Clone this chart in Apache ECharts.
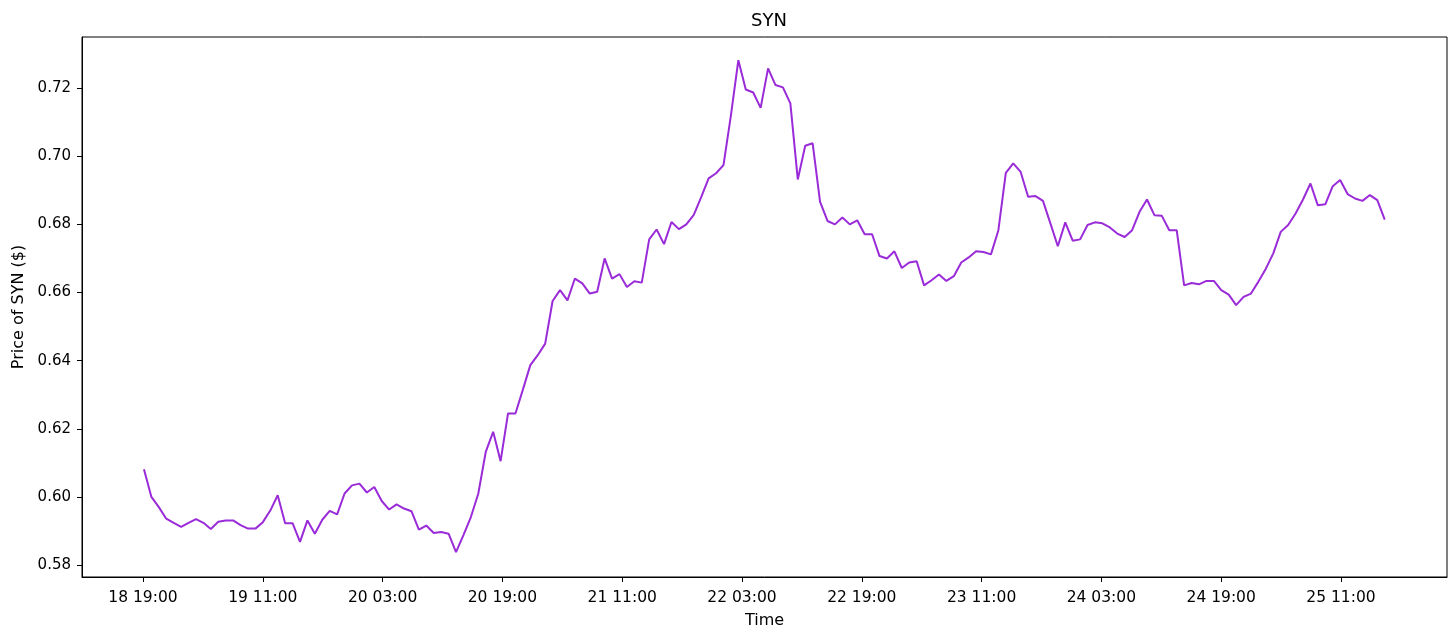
<!DOCTYPE html>
<html>
<head>
<meta charset="utf-8">
<title>SYN</title>
<script src="https://cdn.jsdelivr.net/npm/echarts@6/dist/echarts.min.js"></script>
<style>
  html, body { margin: 0; padding: 0; background: #fff; }
  #chart { width: 1456px; height: 637px; }
</style>
</head>
<body>
<div id="chart"></div>
<script>
// x ticks every 16 hours, counted from 18 19:00
let tickHours = [0, 16, 32, 48, 64, 80, 96, 112, 128, 144, 160];
let tickLabels = ["18 19:00", "19 11:00", "20 03:00", "20 19:00", "21 11:00", "22 03:00",
  "22 19:00", "23 11:00", "24 03:00", "24 19:00", "25 11:00"];
let yTicks = [0.58, 0.60, 0.62, 0.64, 0.66, 0.68, 0.70, 0.72];

// samples come roughly once an hour, first one just after 18 19:00
let startHour = 0.13;
let stepHour = 0.9923;

let prices = [
  0.6081, 0.6000, 0.5970, 0.5936, 0.5924, 0.5912, 0.5924, 0.5935, 0.5924, 0.5906,
  0.5927, 0.5931, 0.5931, 0.5917, 0.5907, 0.5907, 0.5926, 0.5960, 0.6005, 0.5923,
  0.5923, 0.5868, 0.5931, 0.5892, 0.5933, 0.5959, 0.5949, 0.6010, 0.6034, 0.6039,
  0.6013, 0.6029, 0.5988, 0.5963, 0.5978, 0.5966, 0.5958, 0.5904, 0.5916, 0.5894,
  0.5897, 0.5892, 0.5838, 0.5888, 0.5941, 0.6010, 0.6132, 0.6191, 0.6105, 0.6245,
  0.6245, 0.6315, 0.6387, 0.6416, 0.6450, 0.6575, 0.6607, 0.6577, 0.6641, 0.6627,
  0.6597, 0.6602, 0.6700, 0.6641, 0.6654, 0.6616, 0.6633, 0.6629, 0.6756, 0.6785,
  0.6742, 0.6807, 0.6786, 0.6800, 0.6828, 0.6880, 0.6935, 0.6950, 0.6974, 0.7120,
  0.7282, 0.7196, 0.7187, 0.7142, 0.7258, 0.7209, 0.7202, 0.7155, 0.6932, 0.7031,
  0.7038, 0.6866, 0.6810, 0.6800, 0.6820, 0.6800, 0.6812, 0.6771, 0.6771, 0.6707,
  0.6700, 0.6721, 0.6672, 0.6688, 0.6692, 0.6621, 0.6636, 0.6653, 0.6634, 0.6648,
  0.6688, 0.6703, 0.6721, 0.6719, 0.6712, 0.6783, 0.6951, 0.6979, 0.6954, 0.6881,
  0.6883, 0.6869, 0.6803, 0.6736, 0.6806, 0.6752, 0.6756, 0.6798, 0.6806, 0.6803,
  0.6791, 0.6773, 0.6763, 0.6783, 0.6837, 0.6873, 0.6827, 0.6825, 0.6783, 0.6783,
  0.6621, 0.6628, 0.6624, 0.6634, 0.6634, 0.6607, 0.6594, 0.6563, 0.6587, 0.6597,
  0.6632, 0.6670, 0.6715, 0.6778, 0.6798, 0.6832, 0.6873, 0.6920, 0.6856, 0.6859,
  0.6912, 0.6930, 0.6889, 0.6876, 0.6869, 0.6886, 0.6871, 0.6814
];

let points = prices.map((p, i) => [startHour + i * stepHour, p]);

let font = "DejaVu Sans";
let myChart = echarts.init(document.getElementById("chart"));
myChart.setOption({
  animation: false,
  title: {
    text: "SYN",
    left: 764,
    top: 7,
    textAlign: "center",
    textStyle: { fontFamily: font, fontSize: 18, fontWeight: "normal", color: "#000" },
  },
  // box around the plot like matplotlib spines
  grid: {
    left: 82,
    right: 9,
    top: 37,
    bottom: 60,
    show: true,
    borderColor: "#000",
    borderWidth: 1,
  },
  xAxis: {
    type: "value",
    min: -8.147,
    max: 174.16,
    name: "Time",
    nameLocation: "middle",
    nameGap: 36,
    nameTextStyle: { fontFamily: font, fontSize: 16, color: "#000" },
    axisLine: { show: true, onZero: false, lineStyle: { color: "#000", width: 1 } },
    axisTick: { show: true, length: 5, customValues: tickHours, lineStyle: { color: "#000" } },
    axisLabel: {
      customValues: tickHours,
      margin: 13,
      fontFamily: font,
      fontSize: 15.5,
      color: "#000",
      formatter: (v) => tickLabels[tickHours.indexOf(Math.round(v))] || "",
    },
    splitLine: { show: false },
  },
  yAxis: {
    type: "value",
    min: 0.5765,
    max: 0.735,
    name: "Price of SYN ($)",
    nameLocation: "middle",
    nameGap: 55,
    nameTextStyle: { fontFamily: font, fontSize: 16, color: "#000" },
    axisLine: { show: true, onZero: false, lineStyle: { color: "#000", width: 1 } },
    axisTick: { show: true, length: 5, customValues: yTicks, lineStyle: { color: "#000" } },
    axisLabel: {
      customValues: yTicks,
      margin: 11,
      fontFamily: font,
      fontSize: 15,
      color: "#000",
      formatter: (v) => v.toFixed(2),
    },
    splitLine: { show: false },
  },
  series: [
    {
      name: "SYN",
      type: "line",
      data: points,
      showSymbol: false,
      lineStyle: { color: "#9a2bd8", width: 2 },
    },
  ],
});
</script>
</body>
</html>
